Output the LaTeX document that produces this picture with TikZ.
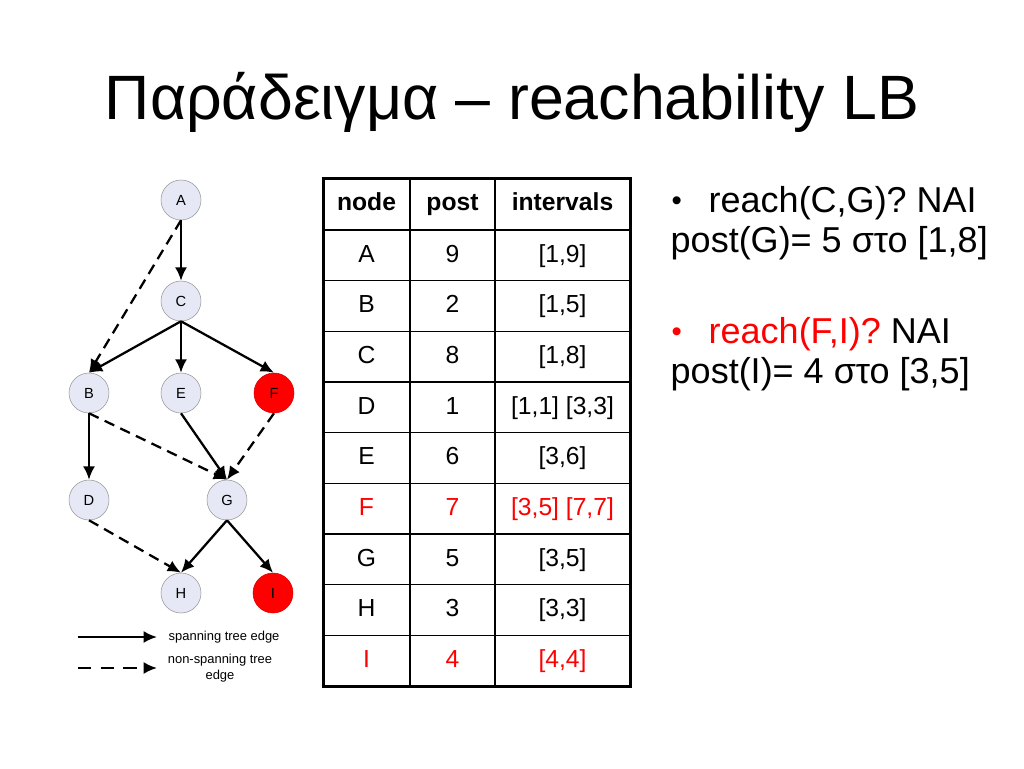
\documentclass[tikz,border=0pt]{standalone}
\usepackage{fontspec}
\setmainfont{Liberation Sans}
\usetikzlibrary{arrows.meta}

\definecolor{nodefill}{RGB}{230,233,245}
\definecolor{nodeline}{RGB}{150,150,150}
\definecolor{slidered}{RGB}{255,0,0}

\newcommand\slidefont{\fontsize{27}{32}\selectfont}
\newcommand\cellfont{\fontsize{18.5}{22}\selectfont}

\tikzset{
  vertex/.style={circle,draw=nodeline,fill=nodefill,minimum size=30pt,inner sep=0pt,
    font=\fontsize{11}{13}\selectfont},
  hot/.style={vertex,draw=slidered!85!black,fill=slidered},
  tree/.style={->,line width=1.7pt},
  nontree/.style={->,line width=1.7pt,dash pattern=on 8pt off 5pt},
  legendtext/.style={font=\fontsize{9.7}{11.5}\selectfont,align=center},
  cell/.style={font=\cellfont,text height=13.5pt,text depth=3.5pt,inner sep=0pt}
}

\begin{document}
\begin{tikzpicture}[x=0.75pt,y=-0.75pt,>={Latex[length=10pt,width=9pt]}]

\useasboundingbox (0,0) rectangle (1024,768);

% title
\node[anchor=base,font=\fontsize{47}{56}\selectfont] (title) at (512,119) {Παράδειγμα – reachability LB};

% graph
\node[vertex] (A) at (181,200) {A};
\node[vertex] (C) at (181,301) {C};
\node[vertex] (B) at (89,393) {B};
\node[vertex] (E) at (181,393) {E};
\node[hot]    (F) at (274,393) {F};
\node[vertex] (D) at (89,500) {D};
\node[vertex] (G) at (227,500) {G};
\node[vertex] (H) at (181,593) {H};
\node[hot]    (I) at (273,593) {I};

\draw[tree] (A.south) -- (C.north);
\draw[nontree] (A.south) -- (B.north);
\foreach \to in {B,E,F}
	\draw[tree] (C.south) -- (\to.north);
\draw[tree] (B.south) -- (D.north);
\draw[nontree] (B.south) -- (G.north);
\draw[tree] (E.south) -- (G.north);
\draw[nontree] (F.south) -- (G.north);
\draw[nontree] (D.south) -- (H.north);
\draw[tree] (G.south) -- (H.north);
\draw[tree] (G.south) -- (I.north);

% legend
\coordinate (s1) at (78,637);
\coordinate (s2) at (157,637);
\coordinate (d1) at (78,668);
\coordinate (d2) at (157,668);
\draw[tree] (s1) -- (s2);
\draw[nontree,dash pattern=on 10pt off 7pt] (d1) -- (d2);
\node[legendtext,anchor=west] (spanlbl) at (164,637) {spanning tree edge};
\node[legendtext] (nonspanlbl) at (220,668) {non-spanning tree\\edge};

% table
\foreach \k in {0,...,8}
	\draw[line width=1.1pt] (323,{230+50.67*\k}) -- (630,{230+50.67*\k});
\draw[line width=1.1pt] (410,178) -- (410,686) (495,178) -- (495,686);
\draw[line width=2.25pt] (323,178) rectangle (630,686);

\node[cell,font=\cellfont\bfseries] (hnode) at (366.5,204) {node};
\node[cell,font=\cellfont\bfseries] (hpost) at (452.5,204) {post};
\node[cell,font=\cellfont\bfseries] (hint) at (562.5,204) {intervals};

\foreach \nm/\pst/\iv/\col [count=\k] in {A/9/{[1,9]}/black, B/2/{[1,5]}/black,
    C/8/{[1,8]}/black, D/1/{[1,1] [3,3]}/black, E/6/{[3,6]}/black,
    F/7/{[3,5] [7,7]}/slidered, G/5/{[3,5]}/black, H/3/{[3,3]}/black, I/4/{[4,4]}/slidered}{
	\node[cell,text=\col] (n\nm) at (366.5,{230+50.67*(\k-0.5)}) {\nm};
	\node[cell,text=\col] (p\nm) at (452.5,{230+50.67*(\k-0.5)}) {\pst};
	\node[cell,text=\col] (i\nm) at (562.5,{230+50.67*(\k-0.5)}) {\iv};
}

% questions
\node[anchor=base west,font=\fontsize{22}{26}\selectfont] (bul1) at (667,210) {\textbullet};
\node[anchor=base west,font=\slidefont] (q1) at (704,212) {reach(C,G)? ΝΑΙ};
\node[anchor=base west,font=\slidefont] (a1) at (666,252) {post(G)= 5 στο [1,8]};
\node[anchor=base west,font=\fontsize{22}{26}\selectfont,text=slidered] (bul2) at (667,341) {\textbullet};
\node[anchor=base west,font=\slidefont] (q2) at (704,343) {\textcolor{slidered}{reach(F,I)?} ΝΑΙ};
\node[anchor=base west,font=\slidefont] (a2) at (666,383) {post(I)= 4 στο [3,5]};

\end{tikzpicture}
\end{document}
